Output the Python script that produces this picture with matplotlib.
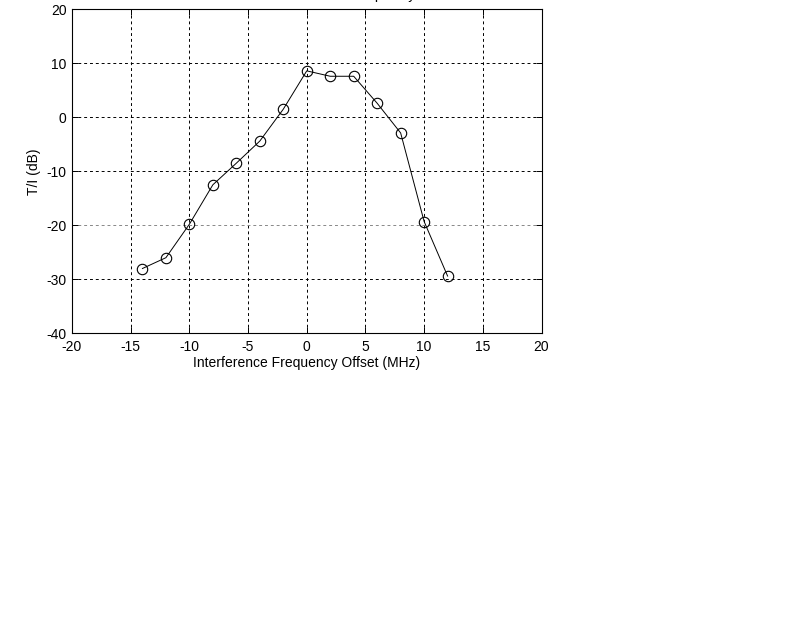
import matplotlib
matplotlib.use("Agg")
import matplotlib.pyplot as plt

plt.rcParams['font.family'] = ['Liberation Sans', 'DejaVu Sans']
plt.rcParams['axes.unicode_minus'] = False

offset_mhz = [-14, -12, -10, -8, -6, -4, -2, 0, 2, 4, 6, 8, 10, 12]
ti_db = [-28.0, -26.0, -19.8, -12.5, -8.5, -4.4, 1.5, 8.6, 7.6, 7.6, 2.6, -2.9, -19.3, -29.4]
x_ticks = [-20, -15, -10, -5, 0, 5, 10, 15, 20]
y_ticks = [-40, -30, -20, -10, 0, 10, 20]
title_text = "T/I vs. Interference Frequency"
x_label = "Interference Frequency Offset (MHz)"
y_label = "T/I (dB)"

fig = plt.figure(figsize=(7.91, 6.19), dpi=100)
L, R, T, B = 72/791, 541.5/791, 1 - 9.3/619, 1 - 333.3/619
ax = fig.add_axes([L, B, R - L, T - B])

ax.plot(offset_mhz, ti_db, color='black', lw=0.7, marker='o', markersize=7.5,
        markerfacecolor='none', markeredgecolor='black', markeredgewidth=0.8)

ax.set_xlim(-20, 20)
ax.set_ylim(-40, 20)
ax.set_xticks(x_ticks)
ax.set_yticks(y_ticks)
ax.tick_params(direction='in', length=4, width=0.7, top=True, right=True,
               labelsize=10, colors='black')
ax.tick_params(axis='x', pad=5)
ax.tick_params(axis='y', pad=4)
ax.grid(True, color='black', linestyle=(0, (3, 3)), linewidth=0.7)
gl = ax.yaxis.get_gridlines()
gl[2].set_color('#888888')
for s in ax.spines.values():
    s.set_linewidth(0.8)
ax.set_xlabel(x_label, fontsize=10, labelpad=1)
ax.set_ylabel(y_label, fontsize=10, labelpad=3.5)

fig.text((L + R) / 2 + 15/791, 1 + 0.8/619, title_text, ha='center', va='baseline', fontsize=10)

fig.savefig('out.png', dpi=100)
